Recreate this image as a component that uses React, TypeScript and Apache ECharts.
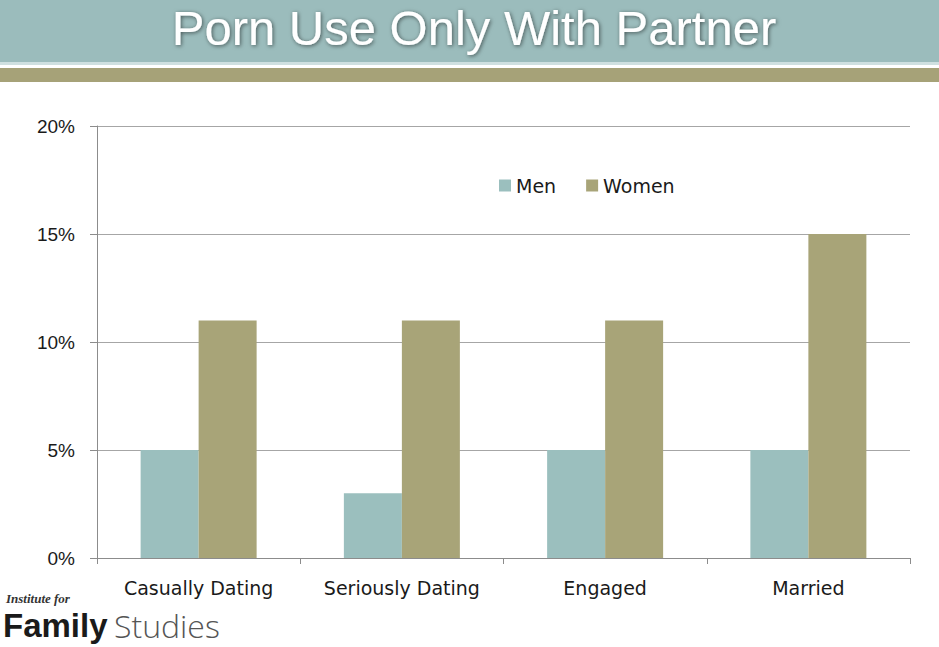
import React, { useEffect, useRef } from "react";
import * as echarts from "echarts";

const categories = ["Casually Dating", "Seriously Dating", "Engaged", "Married"];
const menValues = [5, 3, 5, 5];
const womenValues = [11, 11, 11, 15];
const titleText = "Porn Use Only With Partner";

export default function App() {
  const ref = useRef<HTMLDivElement>(null);
  useEffect(() => {
    const chart = echarts.init(ref.current!, null, { renderer: "svg" });
    chart.setOption({
      animation: false,
      backgroundColor: "#ffffff",
      textStyle: { fontFamily: "DejaVu Sans" },
      grid: { left: 97, right: 29, top: 126, bottom: 89, containLabel: false },
      legend: {
        data: ["Men", "Women"],
        left: 494,
        top: 171,
        itemWidth: 12,
        itemHeight: 12,
        itemGap: 30,
        icon: "rect",
        textStyle: { fontSize: 19, color: "#1a1a1a", fontFamily: "DejaVu Sans", padding: [0, 0, 0, 0] },
      },
      xAxis: {
        type: "category",
        data: categories,
        axisLine: { lineStyle: { color: "#8c8c8c", width: 1 } },
        axisTick: { show: true, alignWithLabel: false, length: 6, lineStyle: { color: "#8c8c8c" } },
        axisLabel: { interval: 0, fontSize: 19, color: "#1a1a1a", margin: 20, fontFamily: "DejaVu Sans" },
      },
      yAxis: {
        type: "value",
        min: 0,
        max: 20,
        interval: 5,
        axisLine: { show: true, lineStyle: { color: "#8c8c8c" } },
        axisTick: { show: true, length: 7, lineStyle: { color: "#8c8c8c" } },
        axisLabel: { fontSize: 19, color: "#1a1a1a", margin: 22, formatter: "{value}%", fontFamily: "Liberation Sans" },
        splitLine: { lineStyle: { color: "#a6a6a6", width: 1 } },
      },
      series: [
        {
          name: "Men",
          type: "bar",
          data: menValues,
          barWidth: 58,
          barGap: "0%",
          itemStyle: { color: "#9bbfbe" },
        },
        {
          name: "Women",
          type: "bar",
          data: womenValues,
          barWidth: 58,
          barGap: "0%",
          itemStyle: { color: "#a8a478" },
        },
      ],
      graphic: [
        { type: "rect", left: 0, top: 0, shape: { width: 939, height: 62 }, style: { fill: "#9bbcbc" }, silent: true },
        { type: "rect", left: 0, top: 62, shape: { width: 939, height: 3 }, style: { fill: "#cfe0e0" }, silent: true },
        { type: "rect", left: 0, top: 68, shape: { width: 939, height: 14 }, style: { fill: "#a6a278" }, silent: true },
        {
          type: "text",
          x: 474,
          y: 28,
          style: {
            text: titleText,
            fill: "#ffffff",
            fontSize: 49,
            fontFamily: "Liberation Sans",
            align: "center",
            verticalAlign: "middle",
            textShadowColor: "rgba(0,0,0,0.55)",
            textShadowBlur: 4,
            textShadowOffsetX: 1,
            textShadowOffsetY: 1,
          },
          silent: true,
        },
        {
          type: "text",
          x: 6,
          y: 598,
          style: { text: "Institute for", fill: "#333333", fontSize: 13, fontStyle: "italic", fontWeight: "bold", fontFamily: "Liberation Serif", verticalAlign: "middle" },
          silent: true,
        },
        {
          type: "text",
          x: 3,
          y: 625,
          style: { text: "Family", fontSize: 33, fontWeight: "bold", fill: "#1a1a1a", fontFamily: "Liberation Sans", verticalAlign: "middle" },
          silent: true,
        },
        {
          type: "text",
          x: 114,
          y: 625,
          style: { text: "Studies", fontSize: 32, fill: "#555555", fontFamily: "Open Sans", fontWeight: 300, verticalAlign: "middle" },
          silent: true,
        },
      ],
    });
    return () => chart.dispose();
  }, []);
  return <div ref={ref} style={{ position: "fixed", left: 0, top: 0, width: 939, height: 647 }} />;
}
